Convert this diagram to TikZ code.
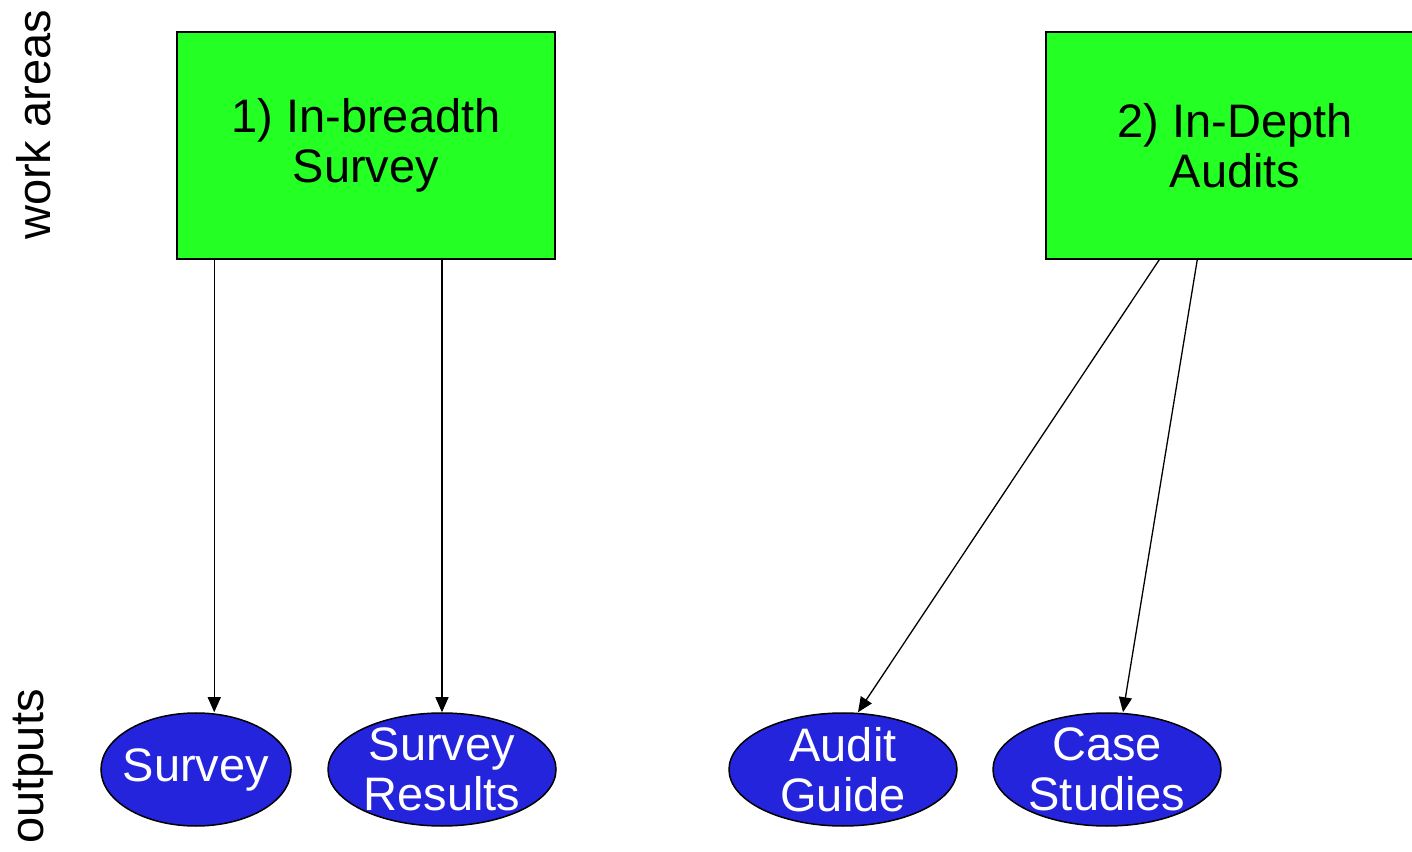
\documentclass[tikz,border=0pt]{standalone}
\usepackage{fontspec}
\setmainfont{Liberation Sans}
\usetikzlibrary{shapes.geometric,arrows.meta}
\definecolor{boxgreen}{RGB}{36,255,36}
\definecolor{ovalblue}{RGB}{36,36,220}
\begin{document}
\begin{tikzpicture}[x=1pt,y=1pt,
  workbox/.style={draw=black, line width=1.5pt, fill=boxgreen, minimum width=378pt, minimum height=227pt, inner sep=0pt, align=center, font=\fontsize{47}{50}\selectfont},
  outoval/.style={ellipse, draw=black, line width=1.5pt, fill=ovalblue, text=white, inner sep=-25pt, align=center, minimum height=113pt, font=\fontsize{47}{50}\selectfont},
  arr/.style={line width=1.3pt, -{Triangle[length=15pt,width=13pt]}},
  sidelabel/.style={rotate=90, anchor=base, inner sep=0pt, font=\fontsize{47}{50}\selectfont}]
\useasboundingbox (0,0) rectangle (1412,851);
\clip (0,0) rectangle (1412,851);
% work areas
\node[workbox] (b1) at (366,705.5) {1) In-breadth\\Survey};
\node[workbox] (b2) at (1235,705.5) {2) In-Depth\\Audits};
% outputs
\node[outoval, minimum width=190pt] (s1) at (196,81.5) {Survey};
\node[outoval, minimum width=228pt] (sr) at (442,81.5) {Survey\\Results};
\node[outoval, minimum width=228pt] (ag) at (843,81.5) {Audit\\Guide};
\node[outoval, minimum width=228pt] (cs) at (1107,81.5) {Case\\Studies};
% side labels
\node[sidelabel] (wa) at (50,726) {work areas};
\node[sidelabel] (op) at (43,84.5) {outputs};
% connectors
\coordinate (a1) at ([xshift=38pt]b1.south west);
\coordinate (a2) at (sr.north |- b1.south);
\coordinate (a3) at ([xshift=114pt]b2.south west);
\coordinate (a4) at ([xshift=152pt]b2.south west);
\draw[arr] (a1) -- (a1 |- s1.north);
\draw[arr] (a2) -- (sr.north);
\draw[arr] (a3) -- ([xshift=15pt]ag.north);
\draw[arr] (a4) -- ([xshift=16pt]cs.north);
\end{tikzpicture}
\end{document}
